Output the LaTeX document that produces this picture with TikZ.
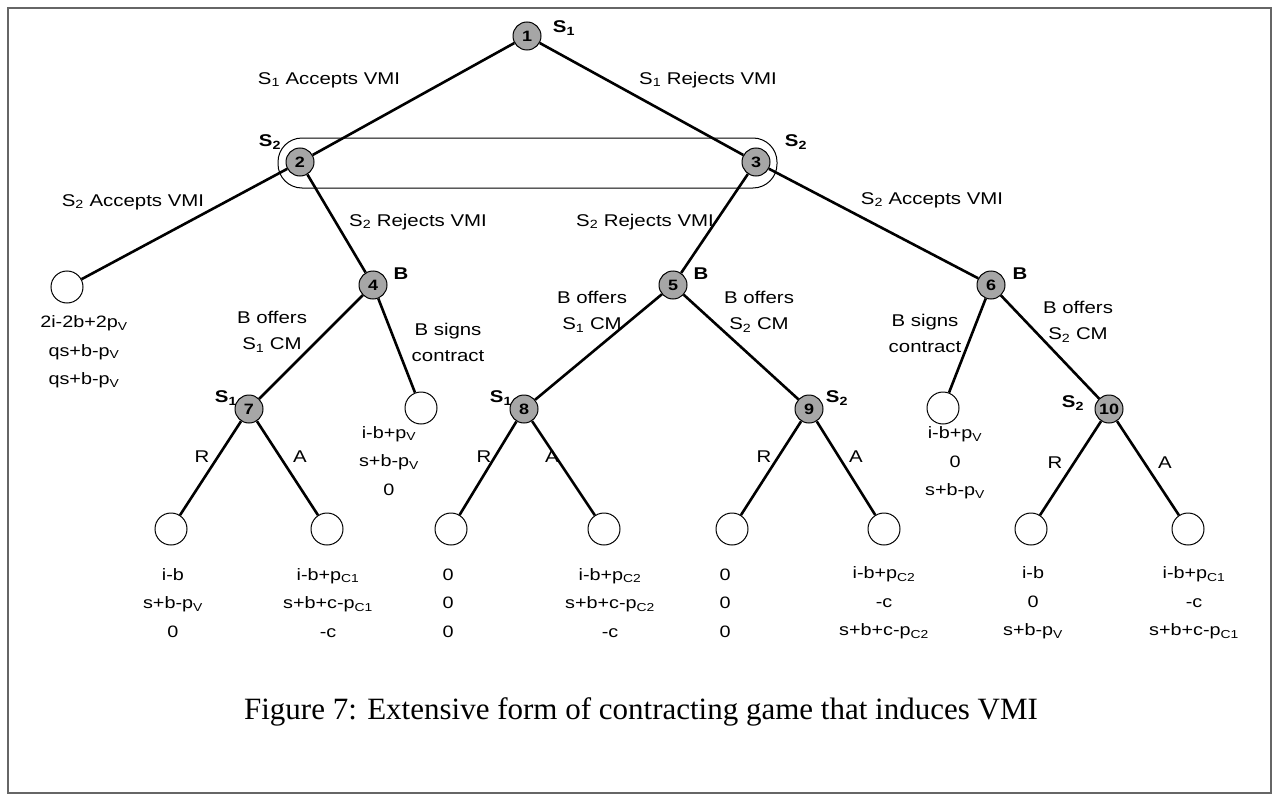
\documentclass[tikz,border=0pt]{standalone}
\usepackage{fontspec}
\setmainfont{Liberation Sans}[FakeStretch=1.2]
\newfontfamily\capfont{Liberation Serif}
\newcommand\sbs[1]{\textsubscript{#1}}
\begin{document}
\begin{tikzpicture}[x=1pt,y=-1pt,
  dec/.style={circle,draw=black,line width=1pt,fill=gray!70,minimum size=28pt,inner sep=0pt,font=\bfseries\fontsize{15}{15}\selectfont},
  leaf/.style={circle,draw=black,line width=1pt,fill=white,minimum size=32pt,inner sep=0pt},
  edge/.style={line width=2.6pt,black},
  lbl/.style={inner sep=0pt,align=center,font=\fontsize{17}{26}\selectfont},
  who/.style={inner sep=0pt,font=\bfseries\fontsize{17}{17}\selectfont},
  pay/.style={inner sep=0pt,align=center,font=\fontsize{16.5}{28.5}\selectfont},
  infoset/.style={draw=black,line width=1pt,rounded corners=24pt}]
\useasboundingbox (0,0) rectangle (1276,797);
\draw[gray!80!black,line width=1.2pt] (8,8) rectangle (1271,793);
% information set
\draw[infoset] (278,138) rectangle (777,188);
% decision nodes
\node[dec] (n1) at (527,36) {1};
\node[dec] (n2) at (300,162) {2};
\node[dec] (n3) at (756,162) {3};
\node[dec] (n4) at (373,285) {4};
\node[dec] (n5) at (673,285) {5};
\node[dec] (n6) at (991,285) {6};
\node[dec] (n7) at (249,409) {7};
\node[dec] (n8) at (524,409) {8};
\node[dec] (n9) at (809,409) {9};
\node[dec] (n10) at (1109,409) {10};
% leaves
\node[leaf] (l1) at (67,287) {};
\node[leaf] (l4) at (421,408) {};
\node[leaf] (l6) at (943,408) {};
\node[leaf] (l7r) at (171,529) {};
\node[leaf] (l7a) at (327,529) {};
\node[leaf] (l8r) at (451,529) {};
\node[leaf] (l8a) at (604,529) {};
\node[leaf] (l9r) at (732,529) {};
\node[leaf] (l9a) at (884,529) {};
\node[leaf] (l10r) at (1031,529) {};
\node[leaf] (l10a) at (1188,529) {};
% edges
\draw[edge] (n1) -- (n2);
\draw[edge] (n1) -- (n3);
\draw[edge] (n2) -- (l1);
\draw[edge] (n2) -- (n4);
\draw[edge] (n3) -- (n5);
\draw[edge] (n3) -- (n6);
\draw[edge] (n4) -- (n7);
\draw[edge] (n4) -- (l4);
\draw[edge] (n5) -- (n8);
\draw[edge] (n5) -- (n9);
\draw[edge] (n6) -- (l6);
\draw[edge] (n6) -- (n10);
\draw[edge] (n7) -- (l7r);
\draw[edge] (n7) -- (l7a);
\draw[edge] (n8) -- (l8r);
\draw[edge] (n8) -- (l8a);
\draw[edge] (n9) -- (l9r);
\draw[edge] (n9) -- (l9a);
\draw[edge] (n10) -- (l10r);
\draw[edge] (n10) -- (l10a);
% player labels
\node[who] (w1) at (564,28) {S\sbs{1}};
\node[who] (w2) at (270,142) {S\sbs{2}};
\node[who] (w3) at (796,142) {S\sbs{2}};
\node[who] (w4) at (401,274) {B};
\node[who] (w5) at (701,274) {B};
\node[who] (w6) at (1020,274) {B};
\node[who] (w7) at (226,398) {S\sbs{1}};
\node[who] (w8) at (501,398) {S\sbs{1}};
\node[who] (w9) at (837,398) {S\sbs{2}};
\node[who] (w10) at (1073,403) {S\sbs{2}};
% action labels
\node[lbl] (a12) at (329,80) {S\sbs{1} Accepts VMI};
\node[lbl] (a13) at (708,80) {S\sbs{1} Rejects VMI};
\node[lbl] (a2l) at (133,202) {S\sbs{2} Accepts VMI};
\node[lbl] (a24) at (418,222) {S\sbs{2} Rejects VMI};
\node[lbl] (a35) at (645,222) {S\sbs{2} Rejects VMI};
\node[lbl] (a36) at (932,200) {S\sbs{2} Accepts VMI};
\node[lbl] (a47) at (272,332) {B offers\\S\sbs{1} CM};
\node[lbl] (a4l) at (448,342) {B signs\\contract};
\node[lbl] (a58) at (592,312) {B offers\\S\sbs{1} CM};
\node[lbl] (a59) at (759,312) {B offers\\S\sbs{2} CM};
\node[lbl] (a6l) at (925,333) {B signs\\contract};
\node[lbl] (a610) at (1078,322) {B offers\\S\sbs{2} CM};
\node[lbl] (r7) at (202,457) {R};
\node[lbl] (x7) at (300,457) {A};
\node[lbl] (r8) at (484,457) {R};
\node[lbl] (x8) at (552,457) {A};
\node[lbl] (r9) at (764,457) {R};
\node[lbl] (x9) at (856,457) {A};
\node[lbl] (r10) at (1055,463) {R};
\node[lbl] (x10) at (1165,463) {A};
% payoffs
\node[pay] (p1) at (84,352) {2i-2b+2p\sbs{V}\\qs+b-p\sbs{V}\\qs+b-p\sbs{V}};
\node[pay] (p4) at (389,461) {i-b+p\sbs{V}\\s+b-p\sbs{V}\\0};
\node[pay] (p6) at (955,463) {i-b+p\sbs{V}\\0\\s+b-p\sbs{V}};
\node[pay] (p7r) at (173,603) {i-b\\s+b-p\sbs{V}\\0};
\node[pay] (p7a) at (328,603) {i-b+p\sbs{C1}\\s+b+c-p\sbs{C1}\\-c};
\node[pay] (p8r) at (448,603) {0\\0\\0};
\node[pay] (p8a) at (610,603) {i-b+p\sbs{C2}\\s+b+c-p\sbs{C2}\\-c};
\node[pay] (p9r) at (725,603) {0\\0\\0};
\node[pay] (p9a) at (884,603) {i-b+p\sbs{C2}\\-c\\s+b+c-p\sbs{C2}};
\node[pay] (p10r) at (1033,603) {i-b\\0\\s+b-p\sbs{V}};
\node[pay] (p10a) at (1194,603) {i-b+p\sbs{C1}\\-c\\s+b+c-p\sbs{C1}};
% caption
\node[inner sep=0pt,font=\capfont\fontsize{31}{31}\selectfont] (cap) at (641,712) {Figure 7: Extensive form of contracting game that induces VMI};
\end{tikzpicture}
\end{document}
